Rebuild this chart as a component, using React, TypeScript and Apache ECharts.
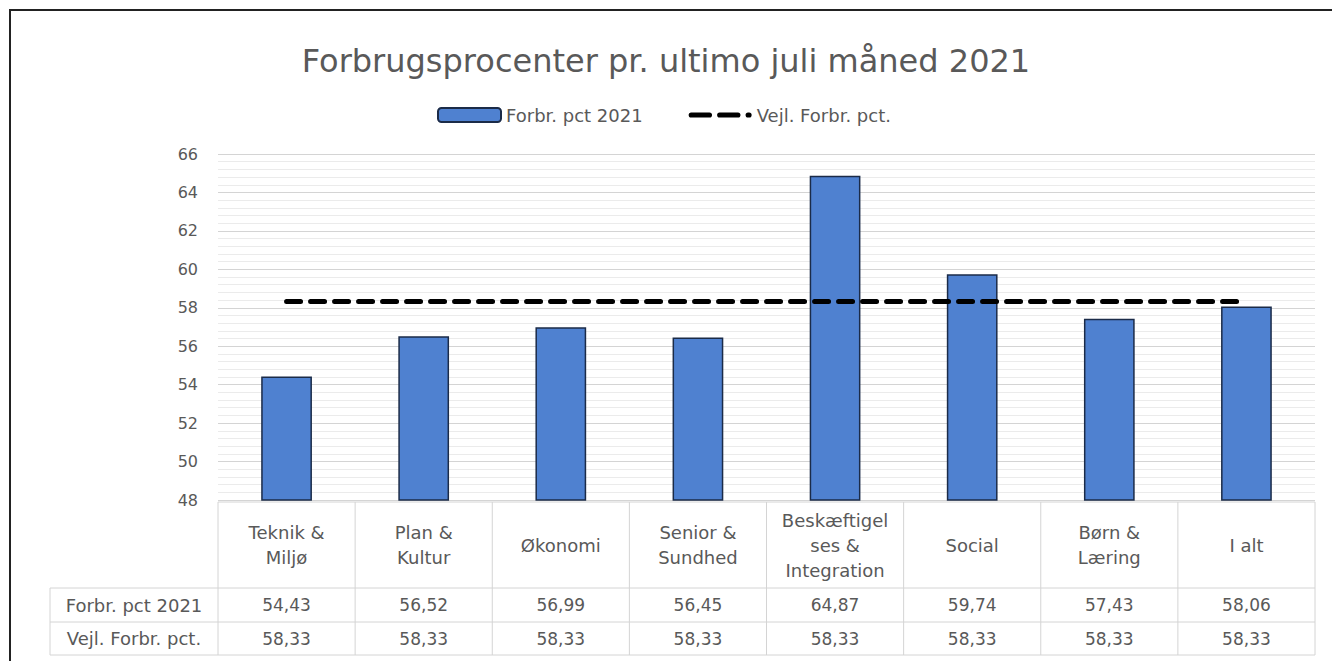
import React, { useEffect, useRef } from "react";
import * as echarts from "echarts";

const title = "Forbrugsprocenter pr. ultimo juli måned 2021";
const categories = [
  "Teknik &\nMiljø",
  "Plan &\nKultur",
  "Økonomi",
  "Senior &\nSundhed",
  "Beskæftigel\nses &\nIntegration",
  "Social",
  "Børn &\nLæring",
  "I alt",
];
const seriesNames = ["Forbr. pct 2021", "Vejl. Forbr. pct."];
const forbrug = [54.43, 56.52, 56.99, 56.45, 64.87, 59.74, 57.43, 58.06];
const vejl = [58.33, 58.33, 58.33, 58.33, 58.33, 58.33, 58.33, 58.33];
const yMin = 48;
const yMax = 66;
const yStep = 2;

const fmt = (v: number) => v.toFixed(2).replace(".", ",");

const W = 1332;
const H = 661;
const GL = 218;
const GR = 1315;
const GT = 154;
const GB = 500;
const FONT = "DejaVu Sans";
const TXT = "#595959";
const LINE = "#d4d4d4";
const DASH_ICON = "path://M2,0h18a2,2 0 0 1 0,5h-18a2,2 0 0 1 0,-5z M30,0h18a2,2 0 0 1 0,5h-18a2,2 0 0 1 0,-5z M58,0h1a2,2 0 0 1 0,5h-1a2,2 0 0 1 0,-5z";

export default function App() {
  const ref = useRef<HTMLDivElement>(null);
  useEffect(() => {
    document.body.style.margin = "0";
    const chart = echarts.init(ref.current!, null, { renderer: "svg" });
    const rowTop = 502;
    const row1 = 588;
    const row2 = 622;
    const rowBot = 655;
    const labelLeft = 50;
    const colW = (GR - GL) / categories.length;
    const g: any[] = [];
    const hl = (x1: number, x2: number, y: number) =>
      g.push({ type: "line", shape: { x1, y1: y, x2, y2: y }, style: { stroke: LINE, lineWidth: 1 }, silent: true });
    const vl = (x: number, y1: number, y2: number) =>
      g.push({ type: "line", shape: { x1: x, y1, x2: x, y2 }, style: { stroke: LINE, lineWidth: 1 }, silent: true });
    hl(GL, GR, rowTop);
    hl(labelLeft, GR, row1);
    hl(labelLeft, GR, row2);
    hl(labelLeft, GR, rowBot);
    vl(labelLeft, row1, rowBot);
    for (let i = 0; i <= categories.length; i++) vl(GL + i * colW, rowTop, rowBot);
    seriesNames.forEach((n, i) => {
      const y = i === 0 ? (row1 + row2) / 2 : (row2 + rowBot) / 2;
      g.push({
        type: "text",
        x: (labelLeft + GL) / 2,
        y,
        style: { text: n, fill: TXT, font: `18px "${FONT}"`, align: "center", verticalAlign: "middle" },
        silent: true,
      });
    });
    // frame (top and left edges visible)
    g.push({
      type: "polyline",
      shape: { points: [[10, H + 10], [10, 10], [W + 10, 10]] },
      style: { fill: "none", stroke: "#222", lineWidth: 2 },
      silent: true,
    });

    const tableAxis = (data: string[], margin: number, size: number, lh: number) => ({
      type: "category",
      data,
      position: "bottom",
      gridIndex: 0,
      axisLine: { show: false },
      axisTick: { show: false },
      splitLine: { show: false },
      axisLabel: {
        show: true,
        interval: 0,
        margin,
        color: TXT,
        fontFamily: FONT,
        fontSize: size,
        lineHeight: lh,
        verticalAlign: "middle",
        align: "center",
      },
    });

    chart.setOption({
      animation: false,
      textStyle: { fontFamily: FONT },
      title: {
        text: title,
        left: "center",
        top: 40,
        textStyle: { fontFamily: FONT, fontSize: 32, fontWeight: "normal", color: TXT },
      },
      legend: {
        top: 101,
        left: 432,
        itemWidth: 63,
        itemHeight: 14,
        itemGap: 46,
        textStyle: { fontFamily: FONT, fontSize: 18, color: TXT },
        data: [{ name: seriesNames[0] }, { name: seriesNames[1], icon: DASH_ICON }],
      },
      grid: { left: GL, right: W - GR, top: GT, bottom: H - GB, containLabel: false },
      xAxis: [
        tableAxis(categories, 45, 18, 25),
        tableAxis(forbrug.map(fmt), (row1 + row2) / 2 - GB, 17, 20),
        tableAxis(vejl.map(fmt), (row2 + rowBot) / 2 - GB, 17, 20),
      ],
      yAxis: {
        type: "value",
        min: yMin,
        max: yMax,
        interval: yStep,
        axisLine: { show: false },
        axisTick: { show: false },
        axisLabel: { color: TXT, fontFamily: FONT, fontSize: 16, margin: 20 },
        splitLine: { show: true, lineStyle: { color: "#d4d4d4", width: 1 } },
        minorTick: { show: false, splitNumber: 5 },
        minorSplitLine: { show: true, lineStyle: { color: "#ebebeb", width: 1 } },
      },
      series: [
        {
          name: seriesNames[0],
          type: "bar",
          data: forbrug,
          barWidth: "37%",
          itemStyle: { color: "#4f81d0", borderColor: "#1b2b48", borderWidth: 1.5 },
          z: 2,
        },
        {
          name: seriesNames[1],
          type: "line",
          data: vejl,
          symbol: "none",
          lineStyle: { color: "#000", width: 5, type: [14, 10], cap: "round" },
          itemStyle: { color: "#000" },
          z: 3,
        },
      ],
      graphic: g,
    });
    return () => chart.dispose();
  }, []);
  return <div ref={ref} style={{ width: W, height: H }} />;
}
